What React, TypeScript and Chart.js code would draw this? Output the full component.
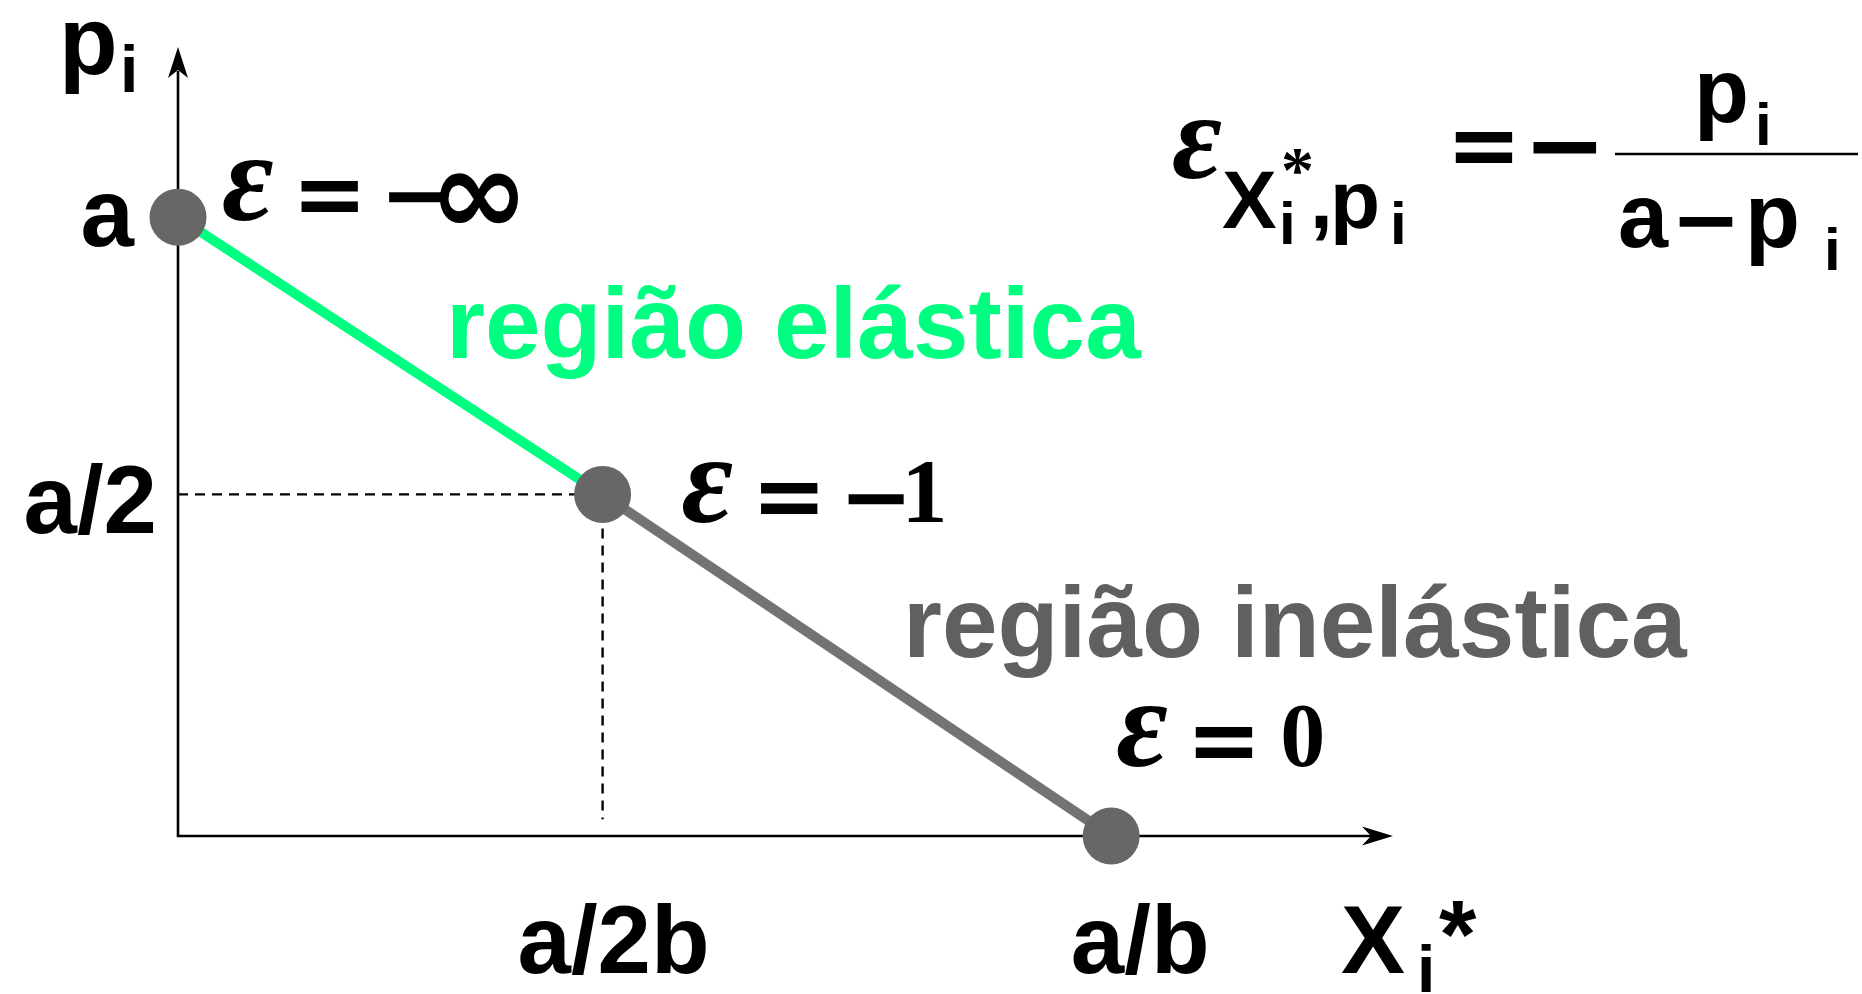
import React, { useEffect, useRef } from "react";
import { Chart, registerables } from "chart.js";

Chart.register(...registerables);

// ---- data ----
const xTickValues = [0.455, 1];
const xTickLabels = ["a/2b", "a/b"];
const yTickValues = [0.552, 1];
const yTickLabels = ["a/2", "a"];

const elasticX = [0, 0.455];
const elasticY = [1, 0.552];
const inelasticX = [0.455, 1];
const inelasticY = [0.552, 0];
const pointX = [0, 0.455, 1];
const pointY = [1, 0.552, 0];
const pointRight = ["−∞", "−1", "0"];
const guideFloor = 0.027;
const xMax = 1.302;
const yMax = 1.275;

const regionLabels = ["região elástica", "região inelástica"];
const axisTitleY = ["p", "i"];
const axisTitleX = ["X", "i", "*"];

// ---- styles ----
const SANS = '"Liberation Sans", Arial, Helvetica, sans-serif';
const SERIF = '"Liberation Serif", "Times New Roman", serif';
const DJ = '"DejaVu Sans", sans-serif';
const GREEN = "#00FF80";
const GREY_LINE = "#737373";
const DOT = "#676767";
const GREY_TEXT = "#606060";

const yTickStyle = [
  { dx: -21, dy: 39 },
  { dx: -44, dy: 29 },
];
const xTickStyle = [
  { dx: 11, dy: 137 },
  { dx: 29, dy: 137 },
];
const epsStyle = [
  { dx: 48, dy: 3 },
  { dx: 83, dy: 28 },
  { dx: 9, dy: -70 },
];

function text(
  ctx: CanvasRenderingContext2D,
  s: string,
  x: number,
  y: number,
  font: string,
  color = "#000",
  align: CanvasTextAlign = "left"
) {
  ctx.font = font;
  ctx.fillStyle = color;
  ctx.textAlign = align;
  ctx.textBaseline = "alphabetic";
  ctx.fillText(s, x, y);
}

const axesPlugin = {
  id: "arrowAxes",
  beforeDatasetsDraw(chart: any) {
    const { ctx, chartArea, scales } = chart;
    const x0 = scales.x.getPixelForValue(0);
    const y0 = scales.y.getPixelForValue(0);
    const top = chartArea.top;
    const right = chartArea.right;
    ctx.save();
    ctx.strokeStyle = "#000";
    ctx.fillStyle = "#000";
    ctx.lineWidth = 2.6;
    ctx.beginPath();
    ctx.moveTo(x0, y0 + 1.3);
    ctx.lineTo(x0, top + 24);
    ctx.moveTo(x0 - 1.3, y0);
    ctx.lineTo(right - 22, y0);
    ctx.stroke();
    // y arrow
    ctx.beginPath();
    ctx.moveTo(x0, top);
    ctx.lineTo(x0 - 10, top + 31);
    ctx.lineTo(x0, top + 23);
    ctx.lineTo(x0 + 10, top + 31);
    ctx.closePath();
    ctx.fill();
    // x arrow
    ctx.beginPath();
    ctx.moveTo(right, y0);
    ctx.lineTo(right - 31, y0 - 9.5);
    ctx.lineTo(right - 22, y0);
    ctx.lineTo(right - 31, y0 + 9.5);
    ctx.closePath();
    ctx.fill();
    ctx.restore();
  },
};

const labelPlugin = {
  id: "labels",
  afterDatasetsDraw(chart: any) {
    const { ctx, chartArea, scales } = chart;
    const px = (v: number) => scales.x.getPixelForValue(v);
    const py = (v: number) => scales.y.getPixelForValue(v);
    const x0 = px(0);
    const y0 = py(0);
    ctx.save();

    // tick labels
    yTickValues.forEach((v, i) => {
      text(ctx, yTickLabels[i], x0 + yTickStyle[i].dx, py(v) + yTickStyle[i].dy, `bold 96px ${SANS}`, "#000", "right");
    });
    xTickValues.forEach((v, i) => {
      text(ctx, xTickLabels[i], px(v) + xTickStyle[i].dx, y0 + xTickStyle[i].dy, `bold 96px ${SANS}`, "#000", "center");
    });

    // axis titles
    text(ctx, axisTitleY[0], x0 - 119, chartArea.top + 27, `bold 96px ${SANS}`);
    text(ctx, axisTitleY[1], x0 - 58, chartArea.top + 45, `bold 66px ${SANS}`);
    const r = chartArea.right;
    text(ctx, axisTitleX[0], r - 52, y0 + 137, `bold 96px ${SANS}`);
    text(ctx, axisTitleX[1], r + 24, y0 + 156, `bold 66px ${SANS}`);
    text(ctx, axisTitleX[2], r + 46, y0 + 131, `bold 96px ${SANS}`);

    // elasticity labels at points
    pointX.forEach((v, i) => {
      const ex = px(v) + epsStyle[i].dx;
      const eb = py(pointY[i]) + epsStyle[i].dy;
      text(ctx, "ε", ex - 4, eb, `italic bold 126px ${SERIF}`);
      text(ctx, "=", ex + 66, eb + 5, `bold 90px ${DJ}`);
      const rs = pointRight[i];
      if (rs === "0") {
        text(ctx, "0", ex + 160, eb, `bold 90px ${SERIF}`);
      } else {
        text(ctx, "−", ex + 154, eb + 5, `bold 88px ${DJ}`);
        if (rs === "−1") text(ctx, "1", ex + 216, eb, `bold 92px ${SERIF}`);
        else text(ctx, "∞", ex + 203, eb + 14, `bold 120px ${DJ}`);
      }
    });

    // region labels
    text(ctx, regionLabels[0], 446, 358, `bold 100px ${SANS}`, GREEN);
    text(ctx, regionLabels[1], 903, 657, `bold 100px ${SANS}`, GREY_TEXT);

    // formula
    text(ctx, "ε", 1172, 178, `italic bold 122px ${SERIF}`);
    text(ctx, "X", 1222, 228, `bold 82px ${SANS}`);
    text(ctx, "i", 1279, 244, `bold 60px ${SANS}`);
    text(ctx, "*", 1281, 192, `bold 66px ${SERIF}`);
    text(ctx, ",", 1310, 228, `bold 82px ${SANS}`);
    text(ctx, "p", 1330, 228, `bold 82px ${SANS}`);
    text(ctx, "i", 1390, 244, `bold 60px ${SANS}`);
    text(ctx, "=", 1484, 176, `bold 90px ${DJ}`, "#000", "center");
    text(ctx, "−", 1565, 179, `bold 100px ${DJ}`, "#000", "center");
    ctx.strokeStyle = "#000";
    ctx.lineWidth = 2.5;
    ctx.beginPath();
    ctx.moveTo(1615, 154);
    ctx.lineTo(1858, 154);
    ctx.stroke();
    text(ctx, "p", 1694, 122, `bold 90px ${SANS}`);
    text(ctx, "i", 1755, 145, `bold 60px ${SANS}`);
    text(ctx, "a", 1618, 247, `bold 90px ${SANS}`);
    text(ctx, "−", 1706, 248, `bold 84px ${DJ}`, "#000", "center");
    text(ctx, "p", 1745, 247, `bold 90px ${SANS}`);
    text(ctx, "i", 1824, 270, `bold 60px ${SANS}`);

    ctx.restore();
  },
};

export default function App() {
  const ref = useRef<HTMLCanvasElement | null>(null);

  useEffect(() => {
    if (!ref.current) return;
    const pts = (xs: number[], ys: number[]) => xs.map((x, i) => ({ x, y: ys[i] }));
    const chart = new Chart(ref.current, {
      type: "scatter",
      data: {
        datasets: [
          {
            label: "points",
            data: pts(pointX, pointY),
            showLine: false,
            pointRadius: 28.5,
            pointHoverRadius: 28.5,
            pointBackgroundColor: DOT,
            pointBorderWidth: 0,
            pointBorderColor: DOT,
            order: 0,
            clip: false,
          } as any,
          {
            label: "elastic",
            data: pts(elasticX, elasticY),
            showLine: true,
            borderColor: GREEN,
            borderWidth: 10,
            pointRadius: 0,
            order: 1,
            clip: false,
          } as any,
          {
            label: "inelastic",
            data: pts(inelasticX, inelasticY),
            showLine: true,
            borderColor: GREY_LINE,
            borderWidth: 10,
            pointRadius: 0,
            order: 1,
            clip: false,
          } as any,
          {
            label: "guideH",
            data: [
              { x: 0, y: pointY[1] },
              { x: pointX[1], y: pointY[1] },
            ],
            showLine: true,
            borderColor: "#000",
            borderWidth: 2.4,
            borderDash: [10, 7],
            pointRadius: 0,
            order: 2,
            clip: false,
          } as any,
          {
            label: "guideV",
            data: [
              { x: pointX[1], y: pointY[1] },
              { x: pointX[1], y: guideFloor },
            ],
            showLine: true,
            borderColor: "#000",
            borderWidth: 2.4,
            borderDash: [10, 7],
            pointRadius: 0,
            order: 2,
            clip: false,
          } as any,
        ],
      },
      options: {
        animation: false,
        responsive: false,
        devicePixelRatio: 1,
        events: [],
        layout: { padding: { left: 178, right: 469, top: 47, bottom: 158 } },
        scales: {
          x: { type: "linear", min: 0, max: xMax, display: false },
          y: { type: "linear", min: 0, max: yMax, display: false },
        },
        plugins: {
          legend: { display: false },
          tooltip: { enabled: false },
        },
      },
      plugins: [axesPlugin, labelPlugin],
    });
    return () => chart.destroy();
  }, []);

  return (
    <div style={{ position: "fixed", left: 0, top: 0, width: 1862, height: 994, background: "#fff" }}>
      <canvas ref={ref} width={1862} height={994} style={{ display: "block", width: 1862, height: 994 }} />
    </div>
  );
}
